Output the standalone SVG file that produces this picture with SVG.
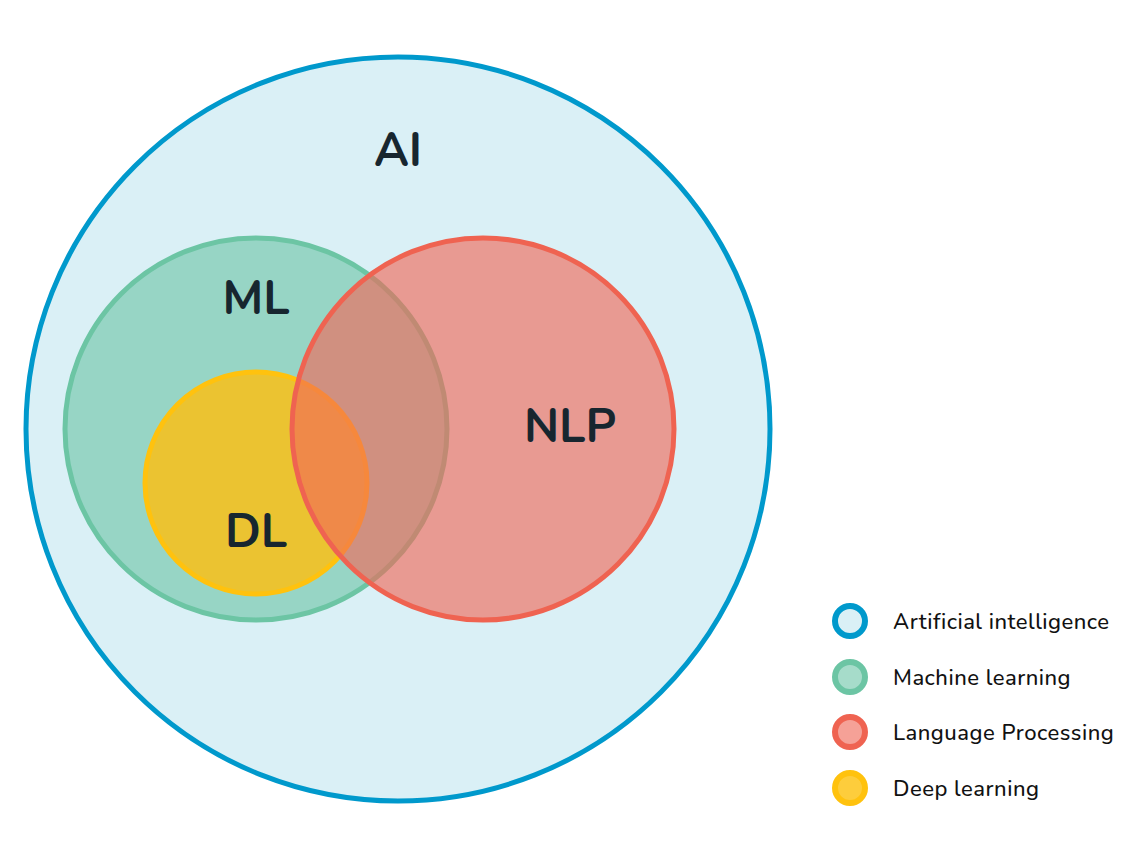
<svg xmlns="http://www.w3.org/2000/svg" width="1139" height="860" viewBox="0 0 1139 860">
<style>
.lbl{font-family:"Nunito","Lato","Open Sans","Liberation Sans",sans-serif;font-weight:700;fill:#17262f;text-anchor:middle}
.big{font-size:47px}
.leg{font-family:"Nunito","Lato","Open Sans","Liberation Sans",sans-serif;font-size:22px;letter-spacing:0.5px;fill:#111;font-weight:500}
.ai{fill:#daf0f6;stroke:#0099cc}
.ml{fill:#97d5c5;stroke:#6cc5a4}
.dl{fill:#ebc331;stroke:#ffc20e}
.nlp{fill:#f06757;fill-opacity:0.63;stroke:#ef6351}
.lai{fill:#daf0f6;stroke:#0099cc}
.lml{fill:#a6dcca;stroke:#6cc5a4}
.lnlp{fill:#f5a197;stroke:#ef6351}
.ldl{fill:#fdcd3c;stroke:#ffc20e}
</style>
<rect width="1139" height="860" fill="#ffffff"/>
<g id="ai">
<circle class="ai" cx="398" cy="429" r="372" stroke-width="5"/>
<text class="lbl big" x="398" y="166">AI</text>
</g>
<g id="ml">
<circle class="ml" cx="256" cy="429" r="191" stroke-width="5"/>
<text class="lbl big" x="256" y="314">ML</text>
</g>
<g id="dl">
<circle class="dl" cx="256" cy="483" r="111" stroke-width="5"/>
<text class="lbl big" x="256" y="547">DL</text>
</g>
<g id="nlp">
<circle class="nlp" cx="483" cy="429" r="191" stroke-width="5"/>
<text class="lbl big" x="570" y="442">NLP</text>
</g>
<g id="connectors"></g>
<g id="legend">
<g id="leg-ai"><circle class="lai" cx="850" cy="621" r="15" stroke-width="6"/><text class="leg" x="893" y="629">Artificial intelligence</text></g>
<g id="leg-ml"><circle class="lml" cx="850" cy="677" r="15" stroke-width="6"/><text class="leg" x="893" y="685">Machine learning</text></g>
<g id="leg-nlp"><circle class="lnlp" cx="850" cy="732" r="15" stroke-width="6"/><text class="leg" x="893" y="740">Language Processing</text></g>
<g id="leg-dl"><circle class="ldl" cx="850" cy="788" r="15" stroke-width="6"/><text class="leg" x="893" y="796">Deep learning</text></g>
</g>
</svg>
